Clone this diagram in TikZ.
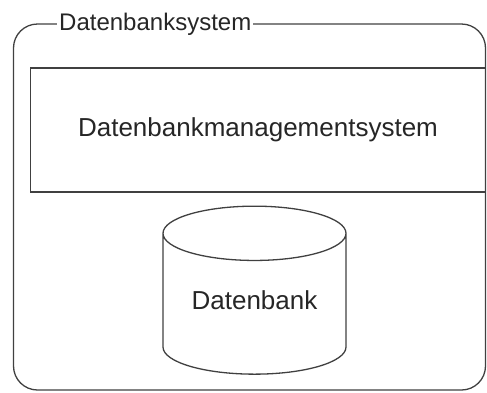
\documentclass[tikz,border=0pt]{standalone}
\usepackage{fontspec}
\setmainfont{Liberation Sans}
\usetikzlibrary{shapes.geometric}

\begin{document}
\begin{tikzpicture}[x=1pt,y=-1pt]
        \useasboundingbox (0,0) rectangle (487,392);
        \node[draw=black!75,line width=1.3pt,rounded corners=24pt,minimum width=472pt,minimum height=366pt] (DBS) at (249.5, 207) {};
        \node[fill=white,inner sep=2pt,anchor=west,font=\fontsize{24}{28}\selectfont,text=black!85] (DBSlabel) at (57, 24) {Datenbanksystem};
        \node[draw=black!75,line width=1.4pt,minimum width=455pt,minimum height=124pt,font=\fontsize{26}{30}\selectfont,text=black!85] (DBMS) at (258, 130) {Datenbankmanagementsystem};
        \node[cylinder,shape border rotate=90,aspect=0.41,draw=black!75,line width=1.3pt,minimum width=183pt,minimum height=168pt,anchor=top,text depth=16pt,font=\fontsize{26}{30}\selectfont,text=black!85] (DB) at (254.5, 205.5) {Datenbank};
    \end{tikzpicture}
\end{document}
